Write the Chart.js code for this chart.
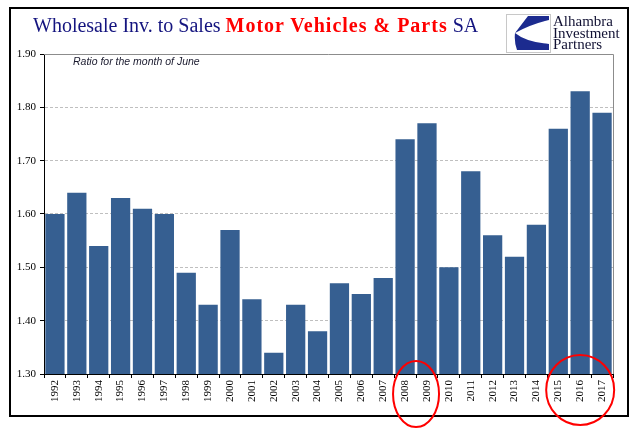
<!DOCTYPE html>
<html>
<head>
<meta charset="utf-8">
<script src="https://cdn.jsdelivr.net/npm/chart.js@4/dist/chart.umd.min.js"></script>
<style>
  html, body { margin: 0; padding: 0; background: #fff; }
  #wrap { position: relative; width: 641px; height: 441px; overflow: hidden; }
  #c { position: absolute; left: 0; top: 0; }
  #title { position: absolute; left: 33px; top: 15px; font-family: "Liberation Serif", "Times New Roman", serif; font-size: 20px; line-height: 20px; white-space: nowrap; color: #14147F; }
  #title .red { color: #FF0000; font-weight: bold; letter-spacing: 1px; }
  #note { position: absolute; left: 73px; top: 55px; font-family: "Liberation Sans", Arial, sans-serif; font-style: italic; font-size: 10.5px; line-height: 12px; color: #1a1a2e; white-space: nowrap; }
  #logo { position: absolute; left: 506px; top: 14px; }
  #logotext { position: absolute; left: 553px; top: 16px; font-family: "Liberation Serif", "Times New Roman", serif; font-size: 15px; line-height: 11.5px; color: #111133; white-space: nowrap; }
</style>
</head>
<body>
<div id="wrap">
  <canvas id="c" width="641" height="441"></canvas>
  <div id="title">Wholesale Inv. to Sales <span class="red">Motor Vehicles &amp; Parts</span> SA</div>
  <div id="note">Ratio for the month of June</div>
  <svg id="logo" width="45" height="39" viewBox="0 0 45 39">
    <rect x="0.5" y="0.5" width="44" height="38" fill="#fff" stroke="#c8c8c8" stroke-width="1"/>
    <path d="M22,2 L43,2 L43,6 Q25,10 9,19 Z" fill="#1C2B8F"/>
    <path d="M9,19 Q20,28 43,30 L43,36 L11,36 Q8,28 9,19 Z" fill="#1C2B8F"/>
  </svg>
  <div id="logotext">Alhambra<br>Investment<br>Partners</div>
</div>
<script>
// ---- data ----
const years = ['1992','1993','1994','1995','1996','1997','1998','1999','2000','2001','2002','2003','2004',
               '2005','2006','2007','2008','2009','2010','2011','2012','2013','2014','2015','2016','2017'];
const ratios = [1.60, 1.64, 1.54, 1.63, 1.61, 1.60, 1.49, 1.43, 1.57, 1.44, 1.34, 1.43, 1.38,
                1.47, 1.45, 1.48, 1.74, 1.77, 1.50, 1.68, 1.56, 1.52, 1.58, 1.76, 1.83, 1.79];
const yMin = 1.30;
const yMax = 1.90;
const yStep = 0.10;
const circledGroups = [['2008','2009'], ['2015','2016','2017']];

// ---- decorations plugin ----
const deco = {
  id: 'deco',
  beforeDatasetsDraw(chart) {
    const {ctx, chartArea: a} = chart;
    ctx.save();
    ctx.strokeStyle = '#8c8c8c';
    ctx.lineWidth = 1;
    ctx.beginPath();
    ctx.moveTo(a.left, Math.round(a.top) + 0.5);
    ctx.lineTo(Math.round(a.right) + 0.5, Math.round(a.top) + 0.5);
    ctx.lineTo(Math.round(a.right) + 0.5, a.bottom);
    ctx.stroke();
    ctx.restore();
  },
  afterDraw(chart) {
    const {ctx, chartArea: a, scales} = chart;
    ctx.save();
    // outer frame
    ctx.strokeStyle = '#000';
    ctx.lineWidth = 2;
    ctx.strokeRect(10, 8, 618, 408);
    // red ellipses round highlighted year labels
    const shapes = [{rx: 23, ry: 33, dy: 20}, {rx: 34, ry: 35, dy: 16}];
    ctx.strokeStyle = '#FF0000';
    ctx.lineWidth = 2;
    circledGroups.forEach((g, i) => {
      const x0 = scales.x.getPixelForValue(years.indexOf(g[0]));
      const x1 = scales.x.getPixelForValue(years.indexOf(g[g.length - 1]));
      const s = shapes[i];
      ctx.beginPath();
      ctx.ellipse((x0 + x1) / 2, a.bottom + s.dy, s.rx, s.ry, 0, 0, Math.PI * 2);
      ctx.stroke();
    });
    ctx.restore();
  }
};

const serif = { family: "'Liberation Serif', 'Times New Roman', serif", size: 11 };

new Chart(document.getElementById('c'), {
  type: 'bar',
  data: {
    labels: years,
    datasets: [{
      data: ratios,
      backgroundColor: '#365F91',
      borderWidth: 0,
      barPercentage: 0.88,
      categoryPercentage: 1.0
    }]
  },
  options: {
    responsive: false,
    animation: false,
    devicePixelRatio: 1,
    layout: { padding: { left: 0, right: 28, top: 54, bottom: 0 } },
    plugins: { legend: { display: false }, tooltip: { enabled: false }, title: { display: false } },
    scales: {
      x: {
        grid: { offset: true, drawOnChartArea: false, drawTicks: true, tickLength: 4, tickColor: '#000', color: '#000' },
        border: { color: '#000', width: 1 },
        ticks: { minRotation: 90, maxRotation: 90, autoSkip: false, font: serif, color: '#000', padding: 2 },
        afterFit(s) { s.height = 67; }
      },
      y: {
        min: yMin,
        max: yMax,
        grid: { color: '#BFBFBF', lineWidth: 1, tickColor: '#000', tickLength: 4, tickBorderDash: [] },
        border: { color: '#000', width: 1, dash: [3, 2] },
        ticks: { stepSize: yStep, font: serif, color: '#000', padding: 4, callback: v => Number(v).toFixed(2) },
        afterFit(s) { s.width = 44; }
      }
    }
  },
  plugins: [deco]
});
</script>
</body>
</html>
